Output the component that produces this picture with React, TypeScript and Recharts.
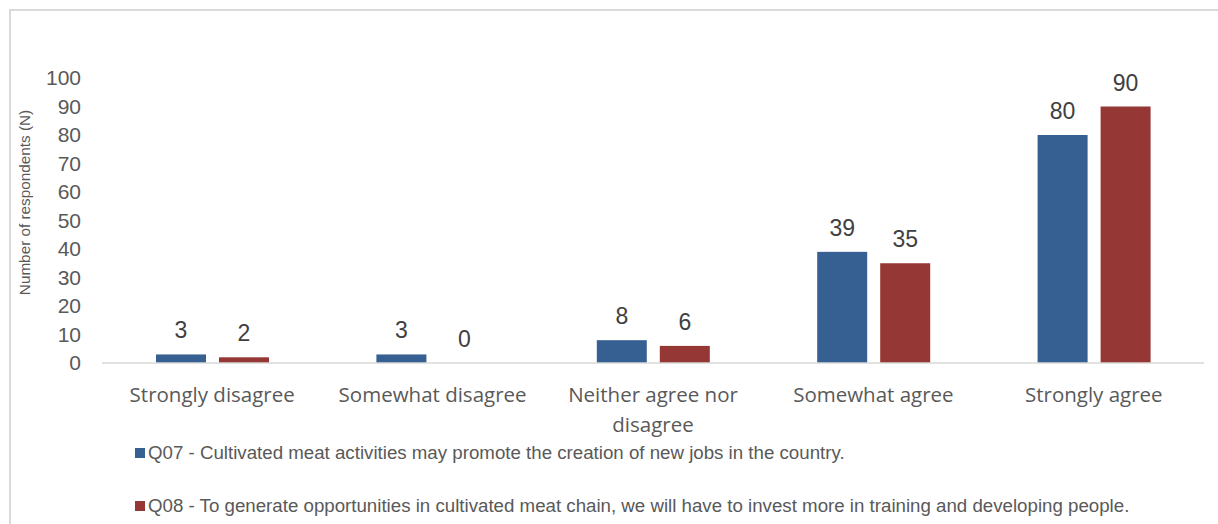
import React from 'react';
import { BarChart, Bar, XAxis, YAxis, LabelList } from 'recharts';

const categories = ['Strongly disagree', 'Somewhat disagree', 'Neither agree nor disagree', 'Somewhat agree', 'Strongly agree'];
const categoryLines = [['Strongly disagree'], ['Somewhat disagree'], ['Neither agree nor', 'disagree'], ['Somewhat agree'], ['Strongly agree']];
const q07 = [3, 3, 8, 39, 80];
const q08 = [2, 0, 6, 35, 90];
const yTicks = [0, 10, 20, 30, 40, 50, 60, 70, 80, 90, 100];
const seriesNames = [
  'Q07 - Cultivated meat activities may promote the creation of new jobs in the country.',
  'Q08 - To generate opportunities in cultivated meat chain, we will have to invest more in training and developing people.',
];
const colors = ['#366092', '#953735'];

const data = categories.map((c, i) => ({ category: c, q07: q07[i], q08: q08[i] }));

const XTick = (props: any) => {
  const { x, y, payload, index } = props;
  const lines = categoryLines[index] || [payload.value];
  return (
    <text
      x={x}
      y={y}
      textAnchor="middle"
      fill="#595959"
      fontSize={20.5}
      fontFamily="'Open Sans', sans-serif"
    >
      {lines.map((l: string, i: number) => (
        <tspan key={i} x={x} dy={i === 0 ? '0.71em' : 30}>{l}</tspan>
      ))}
    </text>
  );
};

const ValueLabel = (props: any) => {
  const { x, y, width, height, value } = props;
  if (value === undefined || value === null) return null;
  const bottom = Math.max(Number(y), Number(y) + Number(height || 0));
  const top = Number(value) === 0 ? bottom : Math.min(Number(y), Number(y) + Number(height || 0));
  return (
    <text
      x={Number(x) + Number(width) / 2}
      y={top - 16}
      textAnchor="middle"
      fill="#404040"
      fontSize={23}
      fontFamily="'Liberation Sans', Arial, sans-serif"
    >
      {value}
    </text>
  );
};

const makeShape = (key: string) => (props: any) => {
  const { x, y, width, height, fill, payload } = props;
  if (!payload || Number(payload[key]) === 0) return <g />;
  return <rect x={x} y={y} width={width} height={height} fill={fill} />;
};

const zeroMin = (value: any) => (Number(value) === 0 ? 1 : 0);

export default function App() {
  return (
    <div style={{ position: 'absolute', left: 0, top: 0, width: 1218, height: 524, background: '#fff', overflow: 'hidden' }}>
      <div style={{ position: 'absolute', left: 9, top: 9, width: 1220, height: 530, borderLeft: '2px solid #d9d9d9', borderTop: '2px solid #d9d9d9' }} />
      <div style={{ position: 'absolute', left: 0, top: 0 }}>
        <BarChart
          width={1218}
          height={524}
          data={data}
          margin={{ top: 78, right: 14, bottom: 101, left: 0 }}
          barCategoryGap="24.5%"
          barGap={13}
        >
          <XAxis
            dataKey="category"
            tick={<XTick />}
            tickLine={false}
            tickSize={0}
            tickMargin={24}
            axisLine={{ stroke: '#d9d9d9', strokeWidth: 1.5 }}
            height={60}
            interval={0}
          />
          <YAxis
            domain={[0, 100]}
            ticks={yTicks}
            interval={0}
            width={102}
            axisLine={false}
            tickLine={false}
            tickSize={0}
            tickMargin={21}
            tick={{ fill: '#595959', fontSize: 21, fontFamily: "'Liberation Sans', Arial, sans-serif" }}
            label={{
              value: 'Number of respondents (N)',
              angle: -90,
              position: 'insideLeft',
              offset: 0,
              dx: 25,
              dy: -18,
              style: { textAnchor: 'middle', fill: '#595959', fontSize: 15.3, fontFamily: "'Liberation Sans', Arial, sans-serif" },
            }}
          />
          <Bar dataKey="q07" name={seriesNames[0]} fill={colors[0]} isAnimationActive={false} minPointSize={zeroMin} shape={makeShape('q07')}>
            <LabelList dataKey="q07" content={<ValueLabel />} />
          </Bar>
          <Bar dataKey="q08" name={seriesNames[1]} fill={colors[1]} isAnimationActive={false} minPointSize={zeroMin} shape={makeShape('q08')}>
            <LabelList dataKey="q08" content={<ValueLabel />} />
          </Bar>
        </BarChart>
      </div>
      <div style={{ position: 'absolute', left: 135, top: 441, fontFamily: "'Liberation Sans', Arial, sans-serif", fontSize: 18.7, color: '#595959' }}>
        {seriesNames.map((n, i) => (
          <div key={i} style={{ display: 'flex', alignItems: 'center', height: 24, marginBottom: i === 0 ? 29 : 0 }}>
            <span style={{ display: 'inline-block', width: 10, height: 10, background: colors[i], marginRight: 3 }} />
            <span style={{ whiteSpace: 'nowrap' }}>{n}</span>
          </div>
        ))}
      </div>
    </div>
  );
}
